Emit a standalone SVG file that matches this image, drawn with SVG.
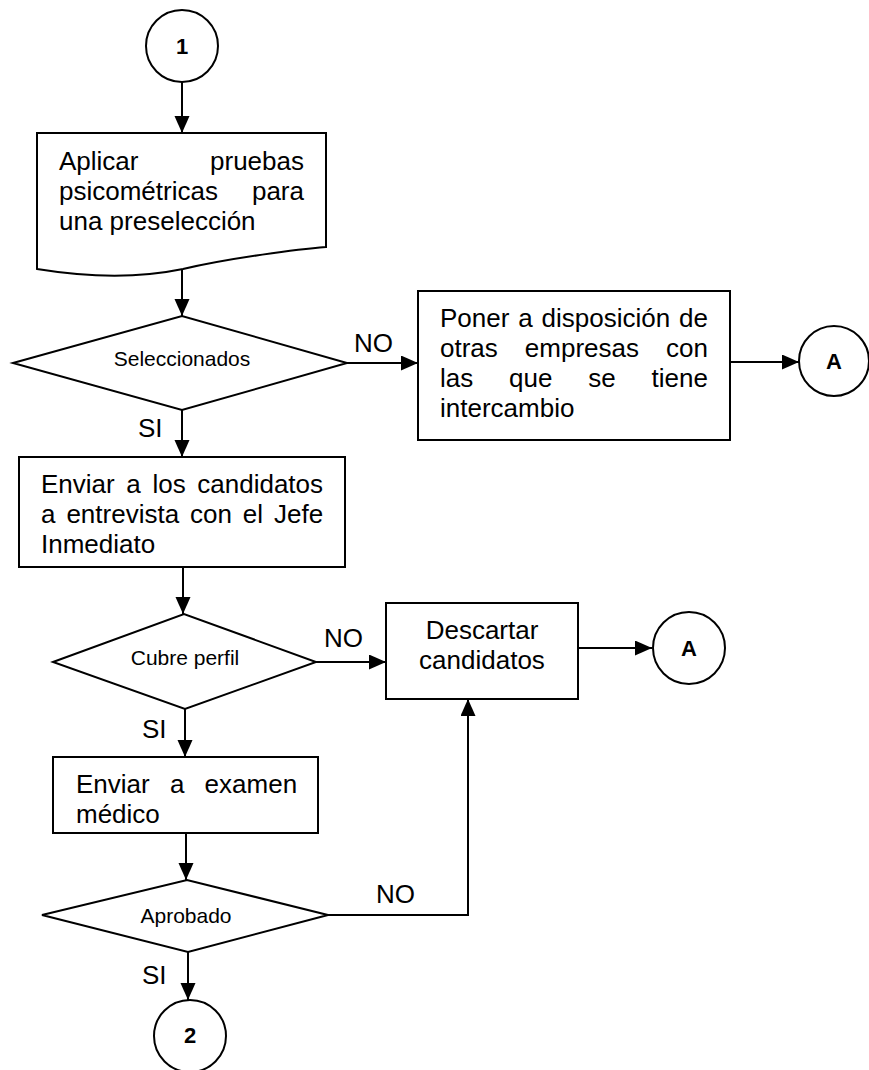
<svg xmlns="http://www.w3.org/2000/svg" width="869" height="1070" viewBox="0 0 869 1070">
<style>
.shape{fill:#fff;stroke:#000;stroke-width:2}
.conn{fill:none;stroke:#000;stroke-width:2}
.t{font-family:"Liberation Sans",Arial,sans-serif;font-size:26px;fill:#000}
.d{font-family:"Liberation Sans",Arial,sans-serif;font-size:21px;fill:#000;text-anchor:middle}
.c{font-family:"Liberation Sans",Arial,sans-serif;font-size:22px;font-weight:bold;fill:#000;text-anchor:middle}
.lbl{font-family:"Liberation Sans",Arial,sans-serif;font-size:26px;fill:#000}
</style>
<defs>
<marker id="arr" markerUnits="userSpaceOnUse" markerWidth="18" markerHeight="16" refX="17" refY="7.5" orient="auto">
<path d="M0,0 L17,7.5 L0,15 Z" fill="#000"/>
</marker>
</defs>
<rect width="869" height="1070" fill="#fff"/>

<g id="connectors">
<path class="conn" d="M182,82 V133" marker-end="url(#arr)"/>
<path class="conn" d="M182,270 V316" marker-end="url(#arr)"/>
<path class="conn" d="M347,363 H418" marker-end="url(#arr)"/>
<path class="conn" d="M730,362 H799" marker-end="url(#arr)"/>
<path class="conn" d="M182,410 V457" marker-end="url(#arr)"/>
<path class="conn" d="M183,567 V614" marker-end="url(#arr)"/>
<path class="conn" d="M316,662 H386" marker-end="url(#arr)"/>
<path class="conn" d="M578,648 H652" marker-end="url(#arr)"/>
<path class="conn" d="M185,709 V757" marker-end="url(#arr)"/>
<path class="conn" d="M186,833 V880" marker-end="url(#arr)"/>
<path class="conn" d="M328,915 H468 V699" marker-end="url(#arr)"/>
<path class="conn" d="M188,952 V1000" marker-end="url(#arr)"/>
<text class="lbl" x="354" y="352">NO</text>
<text class="lbl" x="138" y="437">SI</text>
<text class="lbl" x="324" y="647">NO</text>
<text class="lbl" x="142" y="738">SI</text>
<text class="lbl" x="376" y="903">NO</text>
<text class="lbl" x="142" y="984">SI</text>
</g>

<g id="start1">
<circle class="shape" cx="182" cy="46" r="36"/>
<text class="c" x="182" y="54">1</text>
</g>

<g id="aplicar">
<path class="shape" d="M37,133 H326 V247 C300,249 230,258 183,269 C130,280 80,276 37,269 Z"/>
<text class="t" x="59" y="170">Aplicar</text>
<text class="t" x="304" y="170" text-anchor="end">pruebas</text>
<text class="t" x="59" y="200">psicométricas</text>
<text class="t" x="304" y="200" text-anchor="end">para</text>
<text class="t" x="59" y="230">una preselección</text>
</g>

<g id="seleccionados">
<polygon class="shape" points="13,363 182,316 347,363 182,410"/>
<text class="d" x="182" y="366">Seleccionados</text>
</g>

<g id="poner">
<rect class="shape" x="418" y="291" width="312" height="149"/>
<text class="t" x="440" y="327" style="word-spacing:1.6px">Poner a disposición de</text>
<text class="t" x="440" y="357" style="word-spacing:19.8px">otras empresas con</text>
<text class="t" x="440" y="387" style="word-spacing:28.6px">las que se tiene</text>
<text class="t" x="440" y="417">intercambio</text>
</g>

<g id="connA1">
<circle class="shape" cx="834" cy="361" r="35"/>
<text class="c" x="834" y="369">A</text>
</g>

<g id="entrevista">
<rect class="shape" x="19" y="457" width="326" height="110"/>
<text class="t" x="41" y="493" style="word-spacing:4.4px">Enviar a los candidatos</text>
<text class="t" x="41" y="523" style="word-spacing:3.7px">a entrevista con el Jefe</text>
<text class="t" x="41" y="553">Inmediato</text>
</g>

<g id="cubre">
<polygon class="shape" points="53,662 184,614 316,662 185,709"/>
<text class="d" x="185" y="665">Cubre perfil</text>
</g>

<g id="descartar">
<rect class="shape" x="386" y="603" width="192" height="96"/>
<text class="t" x="482" y="639" text-anchor="middle">Descartar</text>
<text class="t" x="482" y="669" text-anchor="middle">candidatos</text>
</g>

<g id="connA2">
<circle class="shape" cx="689" cy="648" r="36"/>
<text class="c" x="689" y="656">A</text>
</g>

<g id="examen">
<rect class="shape" x="53" y="757" width="265" height="76"/>
<text class="t" x="76" y="793" style="word-spacing:13px">Enviar a examen</text>
<text class="t" x="76" y="823">médico</text>
</g>

<g id="aprobado">
<polygon class="shape" points="42,915 187,880 328,915 188,952"/>
<text class="d" x="186" y="923">Aprobado</text>
</g>

<g id="end2">
<circle class="shape" cx="190" cy="1036" r="36"/>
<text class="c" x="190" y="1043">2</text>
</g>
</svg>
